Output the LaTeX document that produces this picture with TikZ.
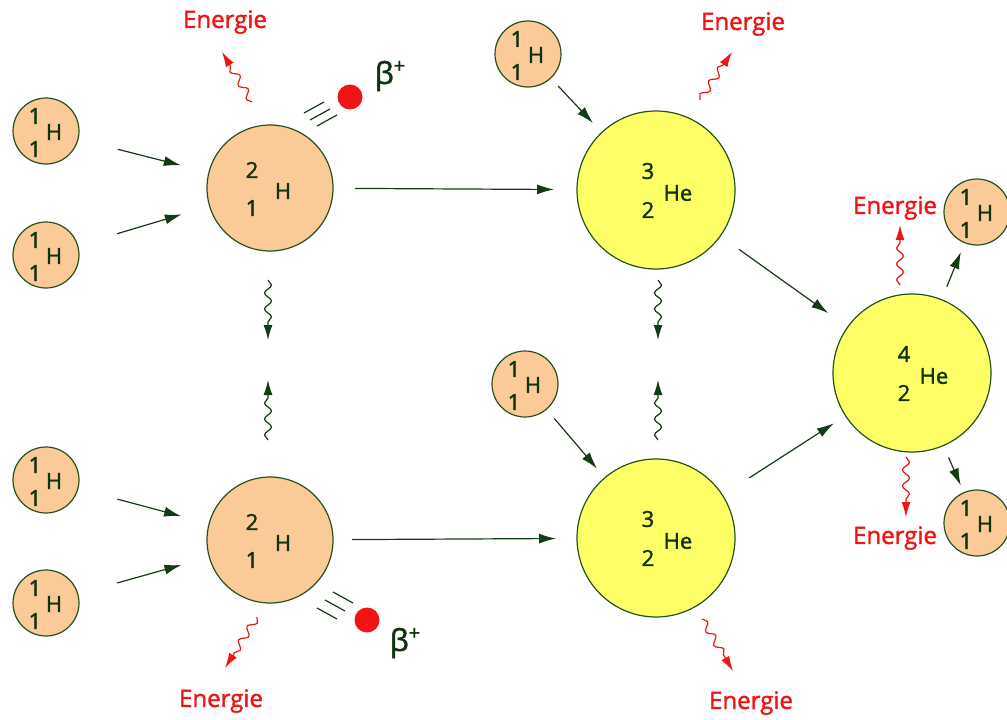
\documentclass[tikz,border=0pt]{standalone}
\usepackage{fontspec}
\setmainfont{Open Sans}
\newfontfamily\medfont{Open Sans}[FakeBold=1.6]
\usepackage{tikz}
\usetikzlibrary{arrows.meta,decorations.pathmorphing}

\definecolor{peach}{RGB}{250,202,152}
\definecolor{heyellow}{RGB}{255,255,102}
\definecolor{nucline}{RGB}{40,80,30}
\definecolor{arrowgreen}{RGB}{20,60,20}
\definecolor{isotext}{RGB}{15,50,15}
\definecolor{ered}{RGB}{240,20,20}

\begin{document}
\begin{tikzpicture}[x=1pt,y=-1pt,
    proton/.style={circle, draw=nucline, fill=peach, line width=1.2pt, minimum size=66pt, inner sep=0pt, outer sep=0pt},
    deuteron/.style={proton, minimum size=126pt},
    helion/.style={proton, fill=heyellow, minimum size=158pt},
    iso/.style={text=isotext, font=\medfont\fontsize{22}{22}\selectfont, inner sep=0pt},
    flow/.style={draw=arrowgreen, line width=1.2pt, -{Latex[length=17pt,width=10pt]}},
    wave/.style={decorate, decoration={snake, amplitude=3.5pt, segment length=16pt, post length=11pt}, line width=1.2pt, -{Latex[length=15pt,width=9pt]}},
    gamma/.style={wave, draw=ered},
    ripple/.style={wave, draw=arrowgreen},
    energy/.style={text=ered, font=\medfont\fontsize{24}{24}\selectfont},
    positron/.style={circle, fill=ered, minimum size=25pt, inner sep=0pt},
    trail/.style={draw=arrowgreen, line width=1.2pt},
    betalabel/.style={text=isotext, font=\medfont\fontsize{30}{30}\selectfont}]
\useasboundingbox (0,0) rectangle (1007,720);

% protons
\foreach \n/\x/\y in {p1/46/131, p2/46/255, p3/46/480, p4/46/603,
                      p5/528/54, p6/525/384, p7/977/212, p8/977/523} {
  \node[proton] (\n) at (\x,\y) {};
  \node[iso] at ([shift={(-11,-15)}]\n.center) {1};
  \node[iso] at ([shift={(-11,18)}]\n.center) {1};
  \node[iso] at ([shift={(8,1)}]\n.center) {H};
}

% deuterium
\foreach \n/\y in {d1/188, d2/540} {
  \node[deuteron] (\n) at (270,\y) {};
  \node[iso] at ([shift={(-18,-18)}]\n.center) {2};
  \node[iso] at ([shift={(-18,20)}]\n.center) {1};
  \node[iso] at ([shift={(13,3)}]\n.center) {H};
}

% helium 3 and helium 4
\foreach \n/\x/\y/\a in {t1/656/190/3, t2/656/538/3, he/912/373/4} {
  \node[helion] (\n) at (\x,\y) {};
  \node[iso] at ([shift={(-8,-19)}]\n.center) {\a};
  \node[iso] at ([shift={(-8,20)}]\n.center) {2};
  \node[iso] at ([shift={(22,3)}]\n.center) {He};
}

% fusion steps
\draw[flow, shorten <=41pt, shorten >=29pt] (p1) -- (d1);
\draw[flow, shorten <=41pt, shorten >=29pt] (p2) -- (d1);
\draw[flow, shorten <=41pt, shorten >=29pt] (p3) -- (d2);
\draw[flow, shorten <=41pt, shorten >=29pt] (p4) -- (d2);
\draw[flow, shorten <=22pt, shorten >=23pt] (d1) -- (t1);
\draw[flow, shorten <=19pt, shorten >=21pt] (d2) -- (t2);
\draw[flow, shorten <=11pt, shorten >=13pt] (p5) -- (t1);
\draw[flow, shorten <=12pt, shorten >=12pt] (p6) -- (t2);
\draw[flow, shorten <=23pt, shorten >=24pt] (t1) -- (he);
\draw[flow, shorten <=32pt, shorten >=14pt] (t2) -- (he);
\draw[flow, shorten <=14pt, shorten >=10pt] (he) -- (p7);
\draw[flow, shorten <=13pt, shorten >=8pt] (he) -- (p8);

% positrons
\node[positron] (b1) at (350,97) {};
\node[betalabel] (bl1) at (390,76) {β\raisebox{11pt}{\fontsize{20}{20}\selectfont +}};
\node[positron] (b2) at (367,620) {};
\node[betalabel] (bl2) at (405,643) {β\raisebox{11pt}{\fontsize{20}{20}\selectfont +}};
\foreach \sx/\sy in {-46/16, -40/23, -33/29}
  \draw[trail] ([shift={(\sx,\sy)}]b1.center) -- ++(20,-11);
\foreach \sx/\sy in {-34/-28, -42/-20, -50/-12}
  \draw[trail] ([shift={(\sx,\sy)}]b2.center) -- ++(20,11);

% energy
\node[energy] (en1) at (225,22) {Energie};
\node[energy] (en2) at (743,24) {Energie};
\node[energy] (en3) at (895,208) {Energie};
\node[energy] (en4) at (895,538) {Energie};
\node[energy] (en5) at (221,701) {Energie};
\node[energy] (en6) at (751,703) {Energie};
\coordinate (eA0) at (252,102); \coordinate (eA1) at (222,52);
\coordinate (eB0) at (700,100); \coordinate (eB1) at (732,52);
\coordinate (eC0) at (900,285); \coordinate (eC1) at (900,225);
\coordinate (eD0) at (906,457); \coordinate (eD1) at (906,517);
\coordinate (eE0) at (257,617); \coordinate (eE1) at (225,668);
\coordinate (eF0) at (702,619); \coordinate (eF1) at (733,671);
\foreach \e in {A,B,C,D,E,F}
  \draw[gamma] (e\e0) -- (e\e1);

% exchange between the two branches
\coordinate (r1a) at (268,280); \coordinate (r1b) at (268,340);
\coordinate (r2a) at (268,440); \coordinate (r2b) at (268,380);
\coordinate (r3a) at (658,280); \coordinate (r3b) at (658,340);
\coordinate (r4a) at (658,440); \coordinate (r4b) at (658,380);
\foreach \r in {1,2,3,4}
  \draw[ripple] (r\r a) -- (r\r b);
\end{tikzpicture}
\end{document}
